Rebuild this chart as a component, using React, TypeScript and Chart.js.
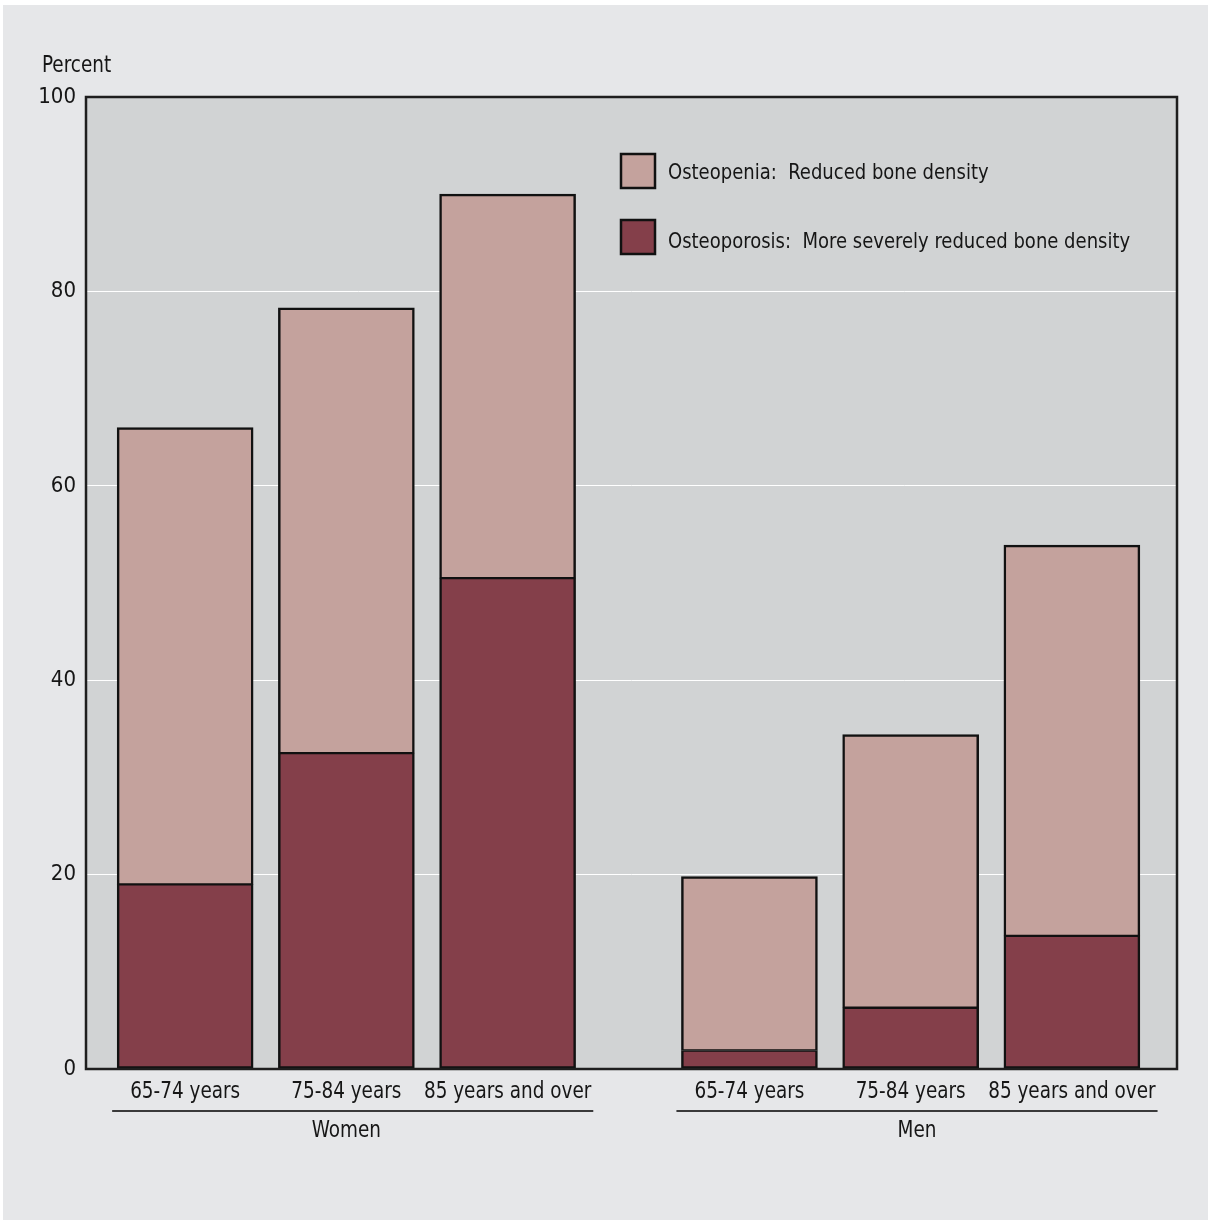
import React, { useEffect, useRef } from "react";
import { Chart, registerables } from "chart.js";

Chart.register(...registerables);

// ---- data ----
const ageGroups = ["65-74 years", "75-84 years", "85 years and over"];
const sexGroups = ["Women", "Men"];
const barLabels = [...ageGroups, ...ageGroups];
const osteoporosis = [19, 32.5, 50.5, 1.9, 6.3, 13.7];
const osteopenia = [47, 45.8, 39.5, 17.9, 28.1, 40.2];
const yTicks = [0, 20, 40, 60, 80, 100];
const seriesLabels = ["Osteopenia:  Reduced bone density", "Osteoporosis:  More severely reduced bone density"];
const yTitle = "Percent";

// ---- layout (not data) ----
const slots = [0, 1, 2, 3.5, 4.5, 5.5];
const FONT = '"Liberation Sans Narrow", "DejaVu Sans Condensed", "Arial Narrow", sans-serif';
const LIGHT = "#c4a29d";
const DARK = "#843f4a";
const TEXT = "#161616";

function narrowText(ctx: CanvasRenderingContext2D, text: string, x: number, y: number, align: "left" | "center" | "right", squeeze: number) {
  const w = ctx.measureText(text).width * squeeze;
  let left = x;
  if (align === "center") left = x - w / 2;
  if (align === "right") left = x - w;
  ctx.save();
  ctx.translate(left, y);
  ctx.scale(squeeze, 1);
  ctx.textAlign = "left";
  ctx.fillText(text, 0, 0);
  ctx.restore();
  return { left, right: left + w };
}

const decorPlugin = {
  id: "decor",
  beforeDraw(chart: any) {
    const { ctx, width, height, chartArea } = chart;
    ctx.save();
    ctx.fillStyle = "#ffffff";
    ctx.fillRect(0, 0, width, height);
    ctx.fillStyle = "#e6e7e9";
    ctx.fillRect(3, 5, width - 5, height - 7);
    ctx.fillStyle = "#d1d3d4";
    ctx.fillRect(chartArea.left, chartArea.top, chartArea.right - chartArea.left, chartArea.bottom - chartArea.top);
    ctx.restore();
  },
  afterDatasetsDraw(chart: any) {
    const { ctx, chartArea } = chart;
    ctx.save();
    ctx.strokeStyle = "#1e1e1e";
    ctx.lineWidth = 2.5;
    ctx.strokeRect(chartArea.left, chartArea.top, chartArea.right - chartArea.left, chartArea.bottom - chartArea.top);
    ctx.restore();
  },
  afterDraw(chart: any) {
    const { ctx, chartArea } = chart;
    const xs = chart.scales.x;
    ctx.save();
    ctx.fillStyle = TEXT;
    ctx.textBaseline = "middle";
    ctx.font = `23px ${FONT}`;
    // y title
    narrowText(ctx, yTitle, 42, 66, "left", 0.89);
    // x tick labels
    const extents: { left: number; right: number }[] = [];
    slots.forEach((v, i) => {
      extents.push(narrowText(ctx, barLabels[i], xs.getPixelForValue(v), 1092, "center", 0.89));
    });
    // group lines and labels
    for (let g = 0; g < sexGroups.length; g++) {
      const first = g * ageGroups.length;
      const last = first + ageGroups.length - 1;
      const left = extents[first].left - 18;
      const right = extents[last].right + 2;
      ctx.strokeStyle = "#3a3a3a";
      ctx.lineWidth = 2;
      ctx.beginPath();
      ctx.moveTo(left, 1111);
      ctx.lineTo(right, 1111);
      ctx.stroke();
      const mid = g === 0
        ? (xs.getPixelForValue(slots[first]) + xs.getPixelForValue(slots[last])) / 2
        : (left + right) / 2;
      ctx.fillStyle = TEXT;
      narrowText(ctx, sexGroups[g], mid, 1131, "center", 0.89);
    }
    // legend
    ctx.font = `22px ${FONT}`;
    const items = [chart.data.datasets[1], chart.data.datasets[0]];
    const lx = chartArea.left + 535;
    const ly = [171, 237];
    const ty = [173.5, 242];
    items.forEach((ds: any, i: number) => {
      ctx.fillStyle = ds.backgroundColor;
      ctx.fillRect(lx, ly[i] - 17, 34, 34);
      ctx.strokeStyle = "#111";
      ctx.lineWidth = 2.5;
      ctx.strokeRect(lx, ly[i] - 17, 34, 34);
      ctx.fillStyle = TEXT;
      narrowText(ctx, ds.label, lx + 47, ty[i], "left", 0.91);
    });
    ctx.restore();
  },
};

export default function App() {
  const ref = useRef<HTMLCanvasElement | null>(null);
  useEffect(() => {
    document.body.style.margin = "0";
    const canvas = ref.current!;
    const chart = new Chart(canvas, {
      type: "bar",
      data: {
        datasets: [
          {
            label: seriesLabels[1],
            data: slots.map((x, i) => ({ x, y: osteoporosis[i] })),
            backgroundColor: DARK,
            borderColor: "#111",
            borderWidth: { top: 1.5, left: 2.5, right: 2.5, bottom: 2.5 },
            borderSkipped: false,
            barThickness: 136,
          },
          {
            label: seriesLabels[0],
            data: slots.map((x, i) => ({ x, y: osteopenia[i] })),
            backgroundColor: LIGHT,
            borderColor: "#111",
            borderWidth: { top: 2.5, left: 2.5, right: 2.5, bottom: 1.5 },
            borderSkipped: false,
            barThickness: 136,
          },
        ],
      },
      options: {
        responsive: false,
        animation: false,
        layout: { padding: { top: 97, right: 33, left: 0, bottom: 0 } },
        plugins: { legend: { display: false }, tooltip: { enabled: false } },
        scales: {
          x: {
            type: "linear",
            stacked: true,
            min: -0.615,
            max: 6.152,
            offset: false,
            grid: { display: false, drawTicks: false },
            border: { display: false },
            afterBuildTicks: (s: any) => {
              s.ticks = slots.map((v) => ({ value: v }));
            },
            afterFit: (s: any) => {
              s.height = 153;
            },
            ticks: { display: false },
          },
          y: {
            stacked: true,
            min: 0,
            max: 100,
            afterBuildTicks: (s: any) => {
              s.ticks = yTicks.map((v) => ({ value: v }));
            },
            afterFit: (s: any) => {
              s.width = 86;
            },
            grid: {
              drawTicks: false,
              color: (c: any) => (c.tick && (c.tick.value === 0 || c.tick.value === 100) ? "rgba(0,0,0,0)" : "#ffffff"),
              lineWidth: 1,
            },
            border: { display: false },
            ticks: {
              padding: 10,
              color: TEXT,
              font: { family: FONT, size: 22 },
            },
          },
        },
      },
      plugins: [decorPlugin],
    } as any);
    return () => chart.destroy();
  }, []);
  return <canvas ref={ref} width={1210} height={1222} style={{ display: "block" }} />;
}
